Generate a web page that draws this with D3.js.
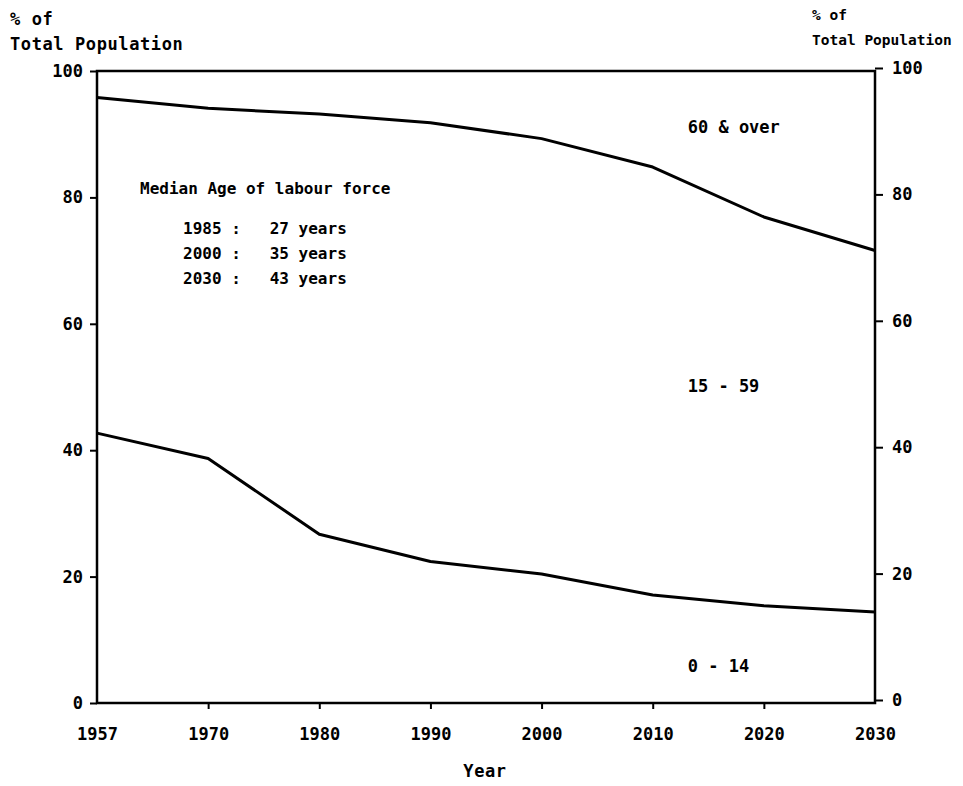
<!DOCTYPE html>
<html>
  <head>
    <meta charset="utf-8">
    <script src="https://cdn.jsdelivr.net/npm/d3@7/dist/d3.min.js"></script>
    <style type="text/css">
    body { margin: 0; background: #fff; }

    text {
      font-family: "DejaVu Sans Mono", "Liberation Mono", monospace;
      font-weight: bold;
      fill: #000;
      white-space: pre;
    }

    .axis text { font-size: 17px; }
    .axis line { stroke: #000; stroke-width: 2; }
    .axis path.domain { display: none; }

    rect.frame {
      fill: none;
      stroke: #000;
      stroke-width: 2.5;
    }

    path.band {
      fill: none;
      stroke: #000;
      stroke-width: 3;
      stroke-linejoin: round;
    }

    text.head { font-size: 17px; letter-spacing: 0.6px; }
    text.head-right { font-size: 14.5px; }
    text.band-label { font-size: 17px; }
    text.note { font-size: 16px; }
    </style>
  </head>
  <body>
    <script type="text/javascript">

      var years = [1957, 1970, 1980, 1990, 2000, 2010, 2020, 2030];
      // share of population aged 0-14 and aged 60 & over (%)
      var pctUnder15 = [42.7, 38.7, 26.7, 22.4, 20.4, 17.1, 15.4, 14.4];
      var pct60Over = [4.2, 5.9, 6.8, 8.2, 10.7, 15.2, 23.1, 28.4];
      var yTicks = [0, 20, 40, 60, 80, 100];

      var bandNames = ["60 & over", "15 - 59", "0 - 14"];
      var bandLabelY = [90.2, 49.2, 4.9];

      var medianTitle = "Median Age of labour force";
      var medianYears = ["1985", "2000", "2030"];
      var medianAges = [27, 35, 43];

      var width = 963;
      var height = 786;
      var l = 97, r = 875, t = 71, b = 703;

      var svg = d3.select("body").append("svg")
        .attr("width", width)
        .attr("height", height);

      var x = d3.scalePoint()
        .domain(years)
        .range([l, r]);

      var y = d3.scaleLinear()
        .domain([0, 100])
        .range([b, t]);

      /* Axes */
      svg.append("g")
        .attr("class", "axis")
        .attr("transform", "translate(" + l + ",0)")
        .call(d3.axisLeft(y).tickValues(yTicks).tickSize(7).tickPadding(7));

      svg.append("g")
        .attr("class", "axis")
        .attr("transform", "translate(" + r + ",-3)")
        .call(d3.axisRight(y).tickValues(yTicks).tickSize(8).tickPadding(9));

      var xAxis = svg.append("g")
        .attr("class", "axis")
        .attr("transform", "translate(0," + b + ")")
        .call(d3.axisBottom(x).tickSize(6).tickPadding(19));
      xAxis.selectAll(".tick line")
        .filter(function(d, i) { return i == 0 || i == years.length - 1; })
        .remove();

      /* Frame */
      svg.append("rect")
        .attr("class", "frame")
        .attr("x", l)
        .attr("y", t)
        .attr("width", r - l)
        .attr("height", b - t);

      /* Band boundaries */
      var line = d3.line()
        .x(function(d, i) { return x(years[i]); })
        .y(function(d) { return y(d); });

      svg.append("path")
        .attr("class", "band")
        .attr("d", line(pct60Over.map(function(v) { return 100 - v; })));

      svg.append("path")
        .attr("class", "band")
        .attr("d", line(pctUnder15));

      /* Band labels */
      svg.selectAll("text.band-label")
        .data(bandNames)
        .enter()
        .append("text")
        .attr("class", "band-label")
        .attr("x", x(2010) + 35)
        .attr("y", function(d, i) { return y(bandLabelY[i]); })
        .text(function(d) { return d; });

      /* Median age note */
      svg.append("text")
        .attr("class", "note")
        .attr("x", l + 43)
        .attr("y", 194)
        .text(medianTitle);

      svg.selectAll("text.median")
        .data(medianYears)
        .enter()
        .append("text")
        .attr("class", "note median")
        .attr("x", l + 86)
        .attr("y", function(d, i) { return 234 + i * 25; })
        .text(function(d, i) { return d + " :   " + medianAges[i] + " years"; });

      /* Axis captions */
      svg.append("text").attr("class", "head").attr("x", 10).attr("y", 25).text("% of");
      svg.append("text").attr("class", "head").attr("x", 10).attr("y", 50).text("Total Population");
      svg.append("text").attr("class", "head-right").attr("x", 812).attr("y", 20).text("% of");
      svg.append("text").attr("class", "head-right").attr("x", 812).attr("y", 45).text("Total Population");

      svg.append("text")
        .attr("class", "head")
        .attr("x", 485)
        .attr("y", 777)
        .attr("text-anchor", "middle")
        .text("Year");

    </script>
  </body>
</html>
